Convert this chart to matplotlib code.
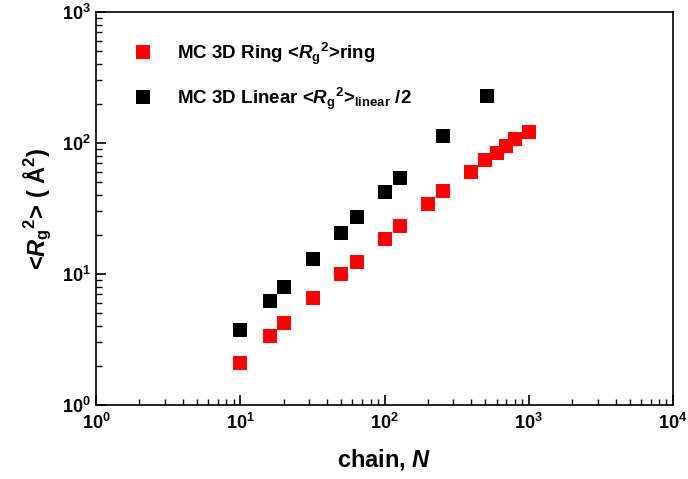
import numpy as np
import matplotlib.pyplot as plt

plt.rcParams['font.family'] = ['Liberation Sans', 'DejaVu Sans']
plt.rcParams['font.weight'] = 'bold'
plt.rcParams['mathtext.fontset'] = 'custom'
plt.rcParams['mathtext.rm'] = 'Liberation Sans:bold'
plt.rcParams['mathtext.it'] = 'Liberation Sans:bold:italic'
plt.rcParams['mathtext.bf'] = 'Liberation Sans:bold'

# ring chains
n_ring = [10, 16, 20, 32, 50, 64, 100, 128, 200, 256, 400, 500, 600, 700, 800, 1000]
rg2_ring = [2.09, 3.36, 4.2, 6.6, 10.0, 12.4, 18.5, 23.2, 34.2, 43.0, 60.0, 74.0, 84.0, 95.0, 107.0, 121.0]

# linear chains (divided by 2)
n_lin = [10, 16, 20, 32, 50, 64, 100, 128, 256, 512]
rg2_lin = [3.74, 6.2, 7.9, 13.0, 20.6, 27.0, 42.0, 54.0, 113.0, 230.0]

fig = plt.figure(figsize=(6.88, 4.79), dpi=100)
ax = fig.add_axes([96/688, 1-405/479, (673-96)/688, (405-12)/479])

ax.plot(n_ring, rg2_ring, 's', color='red', markersize=10, markeredgewidth=0,
        label=r'MC 3D Ring <$R_\mathrm{g}{}^\mathrm{2}$>ring')
ax.plot(n_lin, rg2_lin, 's', color='black', markersize=10, markeredgewidth=0,
        label=r'MC 3D Linear <$R_\mathrm{g}{}^\mathrm{2}$>$_\mathrm{linear}$ /2')

ax.set_xscale('log')
ax.set_yscale('log')
ax.set_xlim(1, 1e4)
ax.set_ylim(1, 1e3)

ax.tick_params(which='both', direction='in', top=False, right=False, labelsize=13)
ax.tick_params(axis='x', which='major', pad=6)
ax.tick_params(which='major', length=7, width=1.2)
ax.tick_params(which='minor', length=4, width=1)
for s in ax.spines.values():
    s.set_linewidth(1.2)

ax.set_xlabel(r'chain, $N$', fontsize=17, fontweight='bold', labelpad=10)
ax.set_ylabel(r'<$R_\mathrm{g}{}^\mathrm{2}$> ( Å$^\mathrm{2}$)', fontsize=17, fontweight='bold', labelpad=6)

ax.legend(loc='upper left', bbox_to_anchor=(0.02, 0.97), frameon=False, fontsize=13.5,
          handletextpad=0.8, labelspacing=0.98, markerscale=1.0)

fig.savefig('out.png', dpi=100)
